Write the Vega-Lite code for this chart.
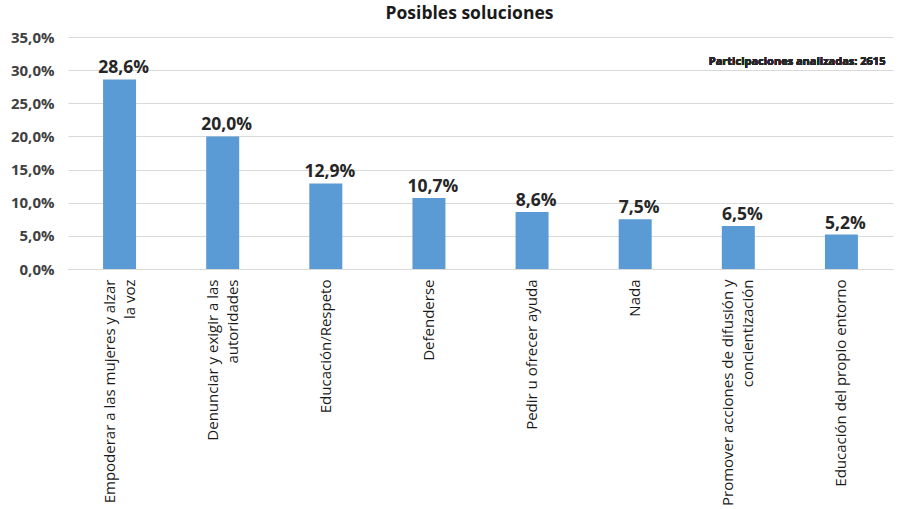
{
  "$schema": "https://vega.github.io/schema/vega-lite/v6.json",
  "autosize": "none",
  "width": 825,
  "height": 232,
  "padding": {"left": 68, "top": 37, "right": 9, "bottom": 240},
  "background": "white",
  "config": {"view": {"stroke": null}, "font": "Open Sans",
    "locale": {"number": {"decimal": ",", "thousands": ".", "grouping": [3], "currency": ["", " €"]}}},
  "title": {"text": "Posibles soluciones", "fontSize": 17.5, "fontWeight": "bold", "color": "#1a1a1a", "font": "Open Sans", "offset": 8, "dx": -11, "anchor": "middle"},
  "data": {"values": [
    {"cat": "Empoderar a las mujeres y alzar\nla voz", "v": 0.286},
    {"cat": "Denunciar y exigir a las\nautoridades", "v": 0.200},
    {"cat": "Educación/Respeto", "v": 0.129},
    {"cat": "Defenderse", "v": 0.107},
    {"cat": "Pedir u ofrecer ayuda", "v": 0.086},
    {"cat": "Nada", "v": 0.075},
    {"cat": "Promover acciones de difusión y\nconcientización", "v": 0.065},
    {"cat": "Educación del propio entorno", "v": 0.052}
  ]},
  "encoding": {
    "x": {"field": "cat", "type": "nominal", "sort": null,
      "scale": {"paddingInner": 0.68, "paddingOuter": 0.34},
      "axis": {"title": null, "labelAngle": -90, "labelAlign": "right", "labelBaseline": "middle",
        "labelExpr": "split(datum.label, '\\n')", "labelFontSize": 15, "labelColor": "#1a1a1a",
        "labelOffset": {"condition": {"test": "indexof(datum.value, '\\n') >= 0", "value": -10}, "value": 0},
        "labelLimit": 0, "labelPadding": 10, "ticks": false, "domain": true, "domainColor": "#d9d9d9", "labelLineHeight": 20}},
    "y": {"field": "v", "type": "quantitative",
      "scale": {"domain": [0, 0.35]},
      "axis": {"title": null, "values": [0, 0.05, 0.1, 0.15, 0.2, 0.25, 0.3, 0.35], "format": ".1%", "labelOverlap": false,
        "labelFontSize": 15, "labelFontWeight": "bold",
        "labelColor": "#404040", "labelPadding": 14, "ticks": false, "domain": false, "gridColor": "#d9d9d9", "gridWidth": 1}}
  },
  "layer": [
    {"mark": {"type": "bar", "color": "#5b9bd5"}},
    {"mark": {"type": "text", "baseline": "bottom", "dy": -2, "dx": 4, "fontSize": 17.5, "fontWeight": "bold", "color": "#262626"},
      "encoding": {"text": {"field": "v", "type": "quantitative", "format": ".1%"}}},
    {"mark": {"type": "text", "align": "right", "baseline": "middle", "dx": 44, "fontSize": 11, "fontWeight": "bold", "color": "#262626"},
      "encoding": {"x": {"datum": "Educación del propio entorno"}, "y": {"datum": 0.312}, "text": {"value": "Participaciones analizadas: 2615"}}}
  ]
}
